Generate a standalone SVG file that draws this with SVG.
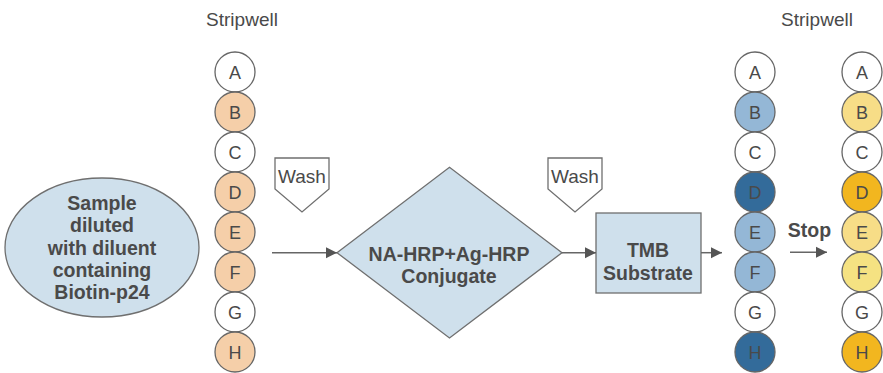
<svg xmlns="http://www.w3.org/2000/svg" width="883" height="373" viewBox="0 0 883 373">
<style>
text{font-family:"Liberation Sans",Arial,sans-serif;fill:#4a4a4a;text-anchor:middle}
.b{font-weight:bold;font-size:19.5px}
.t{font-size:19px}
.w{font-size:18px}
.c{stroke:#666;stroke-width:1.3}
.n{fill:#cfe0ec;stroke:#6f6f6f;stroke-width:1.3}
.l{stroke:#666;stroke-width:1.5;fill:none}
.wash{fill:#fff;stroke:#6f6f6f;stroke-width:1.3}
</style>
<defs>
<marker id="ah" markerWidth="12" markerHeight="12" refX="11" refY="6" orient="auto" markerUnits="userSpaceOnUse">
<path d="M0,0.5 L11,6 L0,11.5 Z" fill="#555"/>
</marker>
</defs>

<text class="t" x="242" y="26">Stripwell</text>
<text class="t" x="817" y="26">Stripwell</text>

<g id="sample">
<ellipse cx="102" cy="247.5" rx="97" ry="69.5" class="n"/>
<text class="b" x="102" y="209.5">Sample</text>
<text class="b" x="102" y="232">diluted</text>
<text class="b" x="102" y="254.5">with diluent</text>
<text class="b" x="102" y="276.5">containing</text>
<text class="b" x="102" y="299">Biotin-p24</text>
</g>

<g id="strip1">
<circle cx="235" cy="72" r="20" class="c" fill="#fff"/><text class="w" x="235" y="78.5">A</text>
<circle cx="235" cy="112" r="20" class="c" fill="#f5cfa9"/><text class="w" x="235" y="118.5">B</text>
<circle cx="235" cy="152" r="20" class="c" fill="#fff"/><text class="w" x="235" y="158.5">C</text>
<circle cx="235" cy="192" r="20" class="c" fill="#f5cfa9"/><text class="w" x="235" y="198.5">D</text>
<circle cx="235" cy="232" r="20" class="c" fill="#f5cfa9"/><text class="w" x="235" y="238.5">E</text>
<circle cx="235" cy="272" r="20" class="c" fill="#f5cfa9"/><text class="w" x="235" y="278.5">F</text>
<circle cx="235" cy="312" r="20" class="c" fill="#fff"/><text class="w" x="235" y="318.5">G</text>
<circle cx="235" cy="352" r="20" class="c" fill="#f5cfa9"/><text class="w" x="235" y="358.5">H</text>
</g>

<g id="wash1">
<path d="M275,158 H329 V189 L302,212 L275,189 Z" class="wash"/>
<text class="t" x="302" y="183">Wash</text>
</g>

<g id="conjugate">
<path d="M337,252.7 L449.5,167.3 L562,252.7 L449.5,338 Z" class="n"/>
<text class="b" x="449" y="261">NA-HRP+Ag-HRP</text>
<text class="b" x="449" y="282.5">Conjugate</text>
</g>

<g id="wash2">
<path d="M548,158 H602 V189 L575,212 L548,189 Z" class="wash"/>
<text class="t" x="575" y="183">Wash</text>
</g>

<g id="tmb">
<rect x="596" y="213" width="105" height="80" class="n"/>
<text class="b" x="648" y="256.5">TMB</text>
<text class="b" x="648" y="279.5">Substrate</text>
</g>

<g id="strip2">
<circle cx="755" cy="72" r="20" class="c" fill="#fff"/><text class="w" x="755" y="78.5">A</text>
<circle cx="755" cy="112" r="20" class="c" fill="#94b7d6"/><text class="w" x="755" y="118.5">B</text>
<circle cx="755" cy="152" r="20" class="c" fill="#fff"/><text class="w" x="755" y="158.5">C</text>
<circle cx="755" cy="192" r="20" class="c" fill="#336b9a"/><text class="w" x="755" y="198.5">D</text>
<circle cx="755" cy="232" r="20" class="c" fill="#94b7d6"/><text class="w" x="755" y="238.5">E</text>
<circle cx="755" cy="272" r="20" class="c" fill="#94b7d6"/><text class="w" x="755" y="278.5">F</text>
<circle cx="755" cy="312" r="20" class="c" fill="#fff"/><text class="w" x="755" y="318.5">G</text>
<circle cx="755" cy="352" r="20" class="c" fill="#336b9a"/><text class="w" x="755" y="358.5">H</text>
</g>

<g id="stop">
<text class="b" x="809.5" y="237">Stop</text>
</g>

<g id="strip3">
<circle cx="862" cy="72" r="20" class="c" fill="#fff"/><text class="w" x="862" y="78.5">A</text>
<circle cx="862" cy="112" r="20" class="c" fill="#f7dd87"/><text class="w" x="862" y="118.5">B</text>
<circle cx="862" cy="152" r="20" class="c" fill="#fff"/><text class="w" x="862" y="158.5">C</text>
<circle cx="862" cy="192" r="20" class="c" fill="#f2b61f"/><text class="w" x="862" y="198.5">D</text>
<circle cx="862" cy="232" r="20" class="c" fill="#f7dd87"/><text class="w" x="862" y="238.5">E</text>
<circle cx="862" cy="272" r="20" class="c" fill="#f5e282"/><text class="w" x="862" y="278.5">F</text>
<circle cx="862" cy="312" r="20" class="c" fill="#fff"/><text class="w" x="862" y="318.5">G</text>
<circle cx="862" cy="352" r="20" class="c" fill="#f2b61f"/><text class="w" x="862" y="358.5">H</text>
</g>

<g id="connectors">
<line x1="272" y1="252.7" x2="337" y2="252.7" class="l" marker-end="url(#ah)"/>
<line x1="562" y1="252.7" x2="596" y2="252.7" class="l" marker-end="url(#ah)"/>
<line x1="701" y1="252.7" x2="722" y2="252.7" class="l" marker-end="url(#ah)"/>
<line x1="790" y1="252.3" x2="827" y2="252.3" class="l" marker-end="url(#ah)"/>
</g>
</svg>
